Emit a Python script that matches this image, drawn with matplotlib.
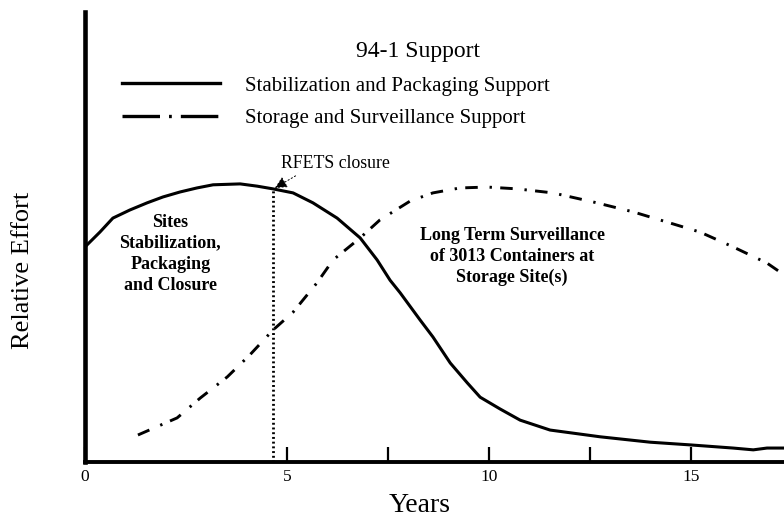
import matplotlib
matplotlib.use("Agg")
import matplotlib.pyplot as plt
from matplotlib.lines import Line2D

plt.rcParams['font.family'] = ['Liberation Serif', 'DejaVu Serif']
plt.rcParams['lines.scale_dashes'] = False

# Data (years, relative effort 0..1)
stab_years = [0.0, 0.37, 0.69, 1.11, 1.54, 1.93, 2.35, 2.77, 3.17, 3.84, 4.26, 4.65,
              5.15, 5.64, 6.24, 6.81, 7.23, 7.55, 7.80, 8.29, 8.61, 9.04, 9.46, 9.78,
              10.27, 10.77, 11.51, 12.75, 13.99, 14.98, 16.04, 16.54, 16.88, 17.30]
stab_effort = [0.478, 0.511, 0.542, 0.560, 0.576, 0.589, 0.600, 0.609, 0.616, 0.618,
               0.613, 0.607, 0.598, 0.576, 0.542, 0.498, 0.449, 0.404, 0.376, 0.316,
               0.278, 0.220, 0.176, 0.144, 0.118, 0.093, 0.071, 0.056, 0.044, 0.038,
               0.031, 0.027, 0.031, 0.031]

stor_years = [1.31, 2.28, 2.85, 3.52, 4.08, 4.65, 5.15, 5.74, 6.14, 6.81, 7.30, 8.05,
              8.61, 9.28, 9.95, 10.69, 11.58, 12.57, 13.56, 14.41, 15.22, 16.04,
              16.88, 17.30]
stor_effort = [0.060, 0.098, 0.142, 0.189, 0.238, 0.293, 0.333, 0.398, 0.449, 0.498,
               0.538, 0.580, 0.598, 0.609, 0.611, 0.607, 0.598, 0.578, 0.556, 0.533,
               0.511, 0.478, 0.442, 0.416]

closure_year = 4.65
closure_effort = 0.607

tick_positions = [0, 5, 7.5, 10, 12.5, 15]
tick_labels = ['0', '5', '', '10', '', '15']

legend_title = "94-1 Support"
series_names = ["Stabilization and Packaging Support", "Storage and Surveillance Support"]

W, H = 784, 523
fig = plt.figure(figsize=(W / 100, H / 100), dpi=100)
ax = fig.add_axes([85 / W, (H - 462) / H, 1 - 85 / W, (462 - 12) / H])

ax.plot(stab_years, stab_effort, color='black', lw=2.2, solid_joinstyle='round')
ax.plot(stor_years, stor_effort, color='black', lw=2.1, linestyle=(0, (9, 8.5, 1.7, 6)))
ax.plot([closure_year, closure_year], [0, closure_effort], color='black', lw=2.0,
        linestyle=(0, (1.4, 2.0)))

ax.annotate("RFETS closure", xy=(closure_year + 0.05, closure_effort + 0.002),
            xytext=(4.85, 0.664), fontsize=12.8, ha='left', va='center',
            arrowprops=dict(arrowstyle='-|>', color='black', lw=0.7, linestyle=':',
                            mutation_scale=18, shrinkA=2, shrinkB=0, relpos=(0.2, 0.0)))

ax.text(2.11, 0.463, "Sites\nStabilization,\nPackaging\nand Closure", fontsize=13,
        fontweight='bold', ha='center', va='center', linespacing=1.3)
ax.text(10.57, 0.456, "Long Term Surveillance\nof 3013 Containers at\nStorage Site(s)",
        fontsize=13, fontweight='bold', ha='center', va='center', linespacing=1.3)

ax.set_xlim(0, 17.30)
ax.set_ylim(0, 1)
ax.set_yticks([])
ax.set_xticks(tick_positions)
ax.set_xticklabels(tick_labels, fontsize=12.5)
ax.tick_params(axis='x', direction='in', length=11, width=1.6, pad=5)
for s in ['top', 'right']:
    ax.spines[s].set_visible(False)
ax.spines['left'].set_linewidth(3.3)
ax.spines['bottom'].set_linewidth(2.8)
ax.spines['left'].set_capstyle('projecting')

fig.text(420 / W, 1 - 505 / H, "Years", fontsize=20, ha='center', va='center')
fig.text(23 / W, 1 - 270 / H, "Relative Effort", fontsize=19, ha='center', va='center',
         rotation=90)

handles = [Line2D([], [], color='black', lw=2.4),
           Line2D([], [], color='black', lw=2.4, linestyle=(0, (27, 6.5, 2, 6.5)))]
leg = ax.legend(handles, series_names, loc='upper left', bbox_to_anchor=(122 / W, 1 - 76 / H),
                bbox_transform=fig.transFigure, frameon=False, fontsize=15,
                handlelength=4.7, handletextpad=1.2, labelspacing=0.62, borderpad=0,
                borderaxespad=0)
fig.text(418 / W, 1 - 52 / H, legend_title, fontsize=17, ha='center', va='center')

fig.savefig("out.png", dpi=100)
